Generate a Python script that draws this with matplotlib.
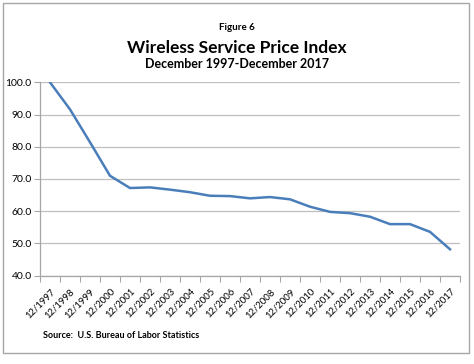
import matplotlib
matplotlib.use("Agg")
import matplotlib.pyplot as plt
from matplotlib.patches import Rectangle
from matplotlib.ticker import FixedLocator, FuncFormatter

years = list(range(1997, 2018))
labels = [f"12/{y}" for y in years]
values = [100.0, 91.6, 81.4, 71.0, 67.2, 67.4, 66.7, 65.9, 64.8, 64.7,
          64.0, 64.4, 63.7, 61.4, 59.8, 59.4, 58.3, 56.0, 56.0, 53.6, 48.2]

plt.rcParams['font.family'] = ['Lato', 'DejaVu Sans']

fig = plt.figure(figsize=(4.74, 3.64), dpi=100)
fig.patches.append(Rectangle((3/474, 11/364), 466/474, 350/364, transform=fig.transFigure,
                             fill=False, edgecolor='#A6A6A6', linewidth=1.0))

ax = fig.add_axes([40/474, 1-275.7/364, 420/474, (275.7-82.3)/364])
x = list(range(len(values)))
ax.plot(x, values, color='#4A7EBB', linewidth=1.8, solid_joinstyle='round')
ax.set_xlim(-0.5, len(values)-0.5)
ax.set_ylim(40, 100)
ax.set_yticks(range(40, 101, 10))
ax.yaxis.set_major_formatter(FuncFormatter(lambda v, p: f"{v:.1f}"))
ax.yaxis.grid(True, color='#BFBFBF', linewidth=0.9)
ax.set_axisbelow(True)
ax.set_xticks(x)
ax.set_xticklabels(labels, rotation=45, ha='right', rotation_mode='anchor', fontsize=6.8)
ax.xaxis.set_minor_locator(FixedLocator([i - 0.5 for i in range(len(values)+1)]))
ax.tick_params(axis='x', which='major', length=0, pad=8)
ax.tick_params(axis='x', which='minor', length=4, color='#A6A6A6', width=0.8)
ax.tick_params(axis='y', length=4, color='#A6A6A6', width=0.8, labelsize=7.5, pad=2)
for s in ['top', 'right']:
    ax.spines[s].set_visible(False)
for s in ['left', 'bottom']:
    ax.spines[s].set_color('#A6A6A6')
    ax.spines[s].set_linewidth(0.9)

fig.text(237/474, 1-27/364, "Figure 6", ha='center', va='center', fontsize=7, fontweight='bold')
fig.text(237/474, 1-48/364, "Wireless Service Price Index", ha='center', va='center', fontsize=12.5, fontweight='bold')
fig.text(237/474, 1-64/364, "December 1997-December 2017", ha='center', va='center', fontsize=9, fontweight='bold')
fig.text(43/474, 1-335/364, "Source:  U.S. Bureau of Labor Statistics", ha='left', va='center', fontsize=6.5, fontweight='bold')

fig.savefig("out.png", dpi=100)
